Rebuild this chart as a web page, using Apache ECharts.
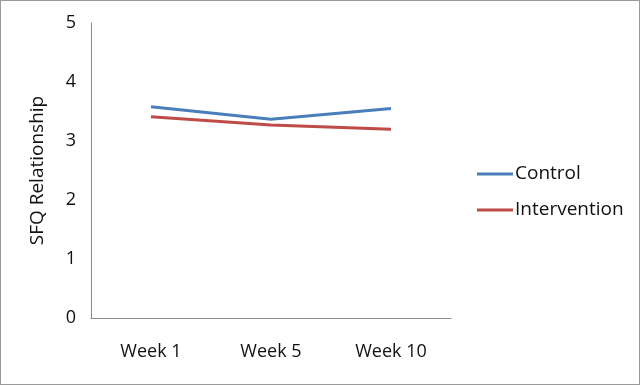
<!DOCTYPE html>
<html>
<head>
<meta charset="utf-8">
<script src="https://cdn.jsdelivr.net/npm/echarts@6/dist/echarts.min.js"></script>
<style>
  html, body { margin: 0; padding: 0; background: #fff; }
  #chart { width: 638px; height: 383px; border: 1px solid #9a9a9a; }
</style>
</head>
<body>
<div id="chart"></div>
<script>
// categories
const weeks = ['Week 1', 'Week 5', 'Week 10']
// series values
const control = [3.58, 3.37, 3.55]
const intervention = [3.41, 3.27, 3.20]
// y ticks
const yTicks = [0, 1, 2, 3, 4, 5]

const chart = echarts.init(document.getElementById('chart'))
const font = 'Open Sans, sans-serif'

chart.setOption({
  animation: false,
  grid: { left: 90, top: 22, width: 360, height: 295 },
  legend: {
    orient: 'vertical',
    left: 476,
    top: 163,
    padding: 0,
    itemWidth: 36,
    itemHeight: 3,
    itemGap: 16,
    icon: 'rect',
    textStyle: { fontFamily: font, fontSize: 19, lineHeight: 20, color: '#111', padding: [0, 0, 0, -3] },
    data: ['Control', 'Intervention']
  },
  xAxis: {
    type: 'category',
    data: weeks,
    boundaryGap: true,
    axisTick: { show: false },
    axisLine: { lineStyle: { color: '#8c8c8c', width: 1 } },
    axisLabel: { fontFamily: font, fontSize: 18, color: '#111', margin: 25 }
  },
  yAxis: {
    type: 'value',
    min: yTicks[0],
    max: yTicks[yTicks.length - 1],
    interval: 1,
    name: 'SFQ Relationship',
    nameLocation: 'middle',
    nameGap: 44,
    nameTextStyle: { fontFamily: font, fontSize: 19, color: '#111' },
    splitLine: { show: false },
    axisTick: { show: false },
    axisLine: { show: true, lineStyle: { color: '#8c8c8c', width: 1 } },
    axisLabel: { fontFamily: font, fontSize: 18, color: '#111', margin: 15 }
  },
  series: [
    {
      name: 'Control',
      type: 'line',
      data: control,
      showSymbol: false,
      symbol: 'none',
      itemStyle: { color: '#4a7ebb' },
      lineStyle: { color: '#4a7ebb', width: 3 }
    },
    {
      name: 'Intervention',
      type: 'line',
      data: intervention,
      showSymbol: false,
      symbol: 'none',
      itemStyle: { color: '#be4b48' },
      lineStyle: { color: '#be4b48', width: 3 }
    }
  ]
})
</script>
</body>
</html>
